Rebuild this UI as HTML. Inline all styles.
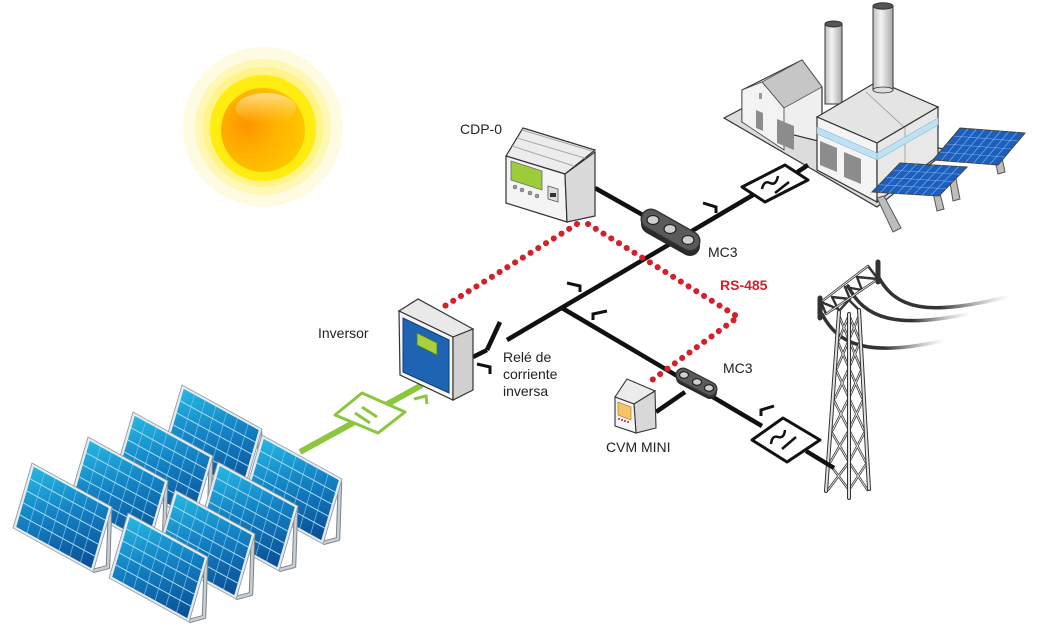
<!DOCTYPE html>
<html><head><meta charset="utf-8"><style>
html,body{margin:0;padding:0;background:#fff;}
svg{display:block;}
text{font-family:"Liberation Sans",Arial,sans-serif;font-size:14px;fill:#222;}
</style></head><body>
<svg width="1043" height="629" viewBox="0 0 1043 629" xmlns="http://www.w3.org/2000/svg">
<defs>
 <linearGradient id="pvg" x1="0" y1="0" x2="1" y2="1">
  <stop offset="0" stop-color="#25b8e2"/><stop offset="0.45" stop-color="#1482c4"/><stop offset="1" stop-color="#0b4d94"/>
 </linearGradient>
 <radialGradient id="ball" cx="0.3" cy="0.45" r="0.8">
  <stop offset="0" stop-color="#ff9400"/><stop offset="0.45" stop-color="#ffb300"/><stop offset="1" stop-color="#ffcc00"/>
 </radialGradient>
 <linearGradient id="hl" x1="0" y1="0" x2="0" y2="1">
  <stop offset="0" stop-color="#ffe9b8" stop-opacity="0.75"/><stop offset="1" stop-color="#ffd060" stop-opacity="0"/>
 </linearGradient>
 <linearGradient id="chim" x1="0" y1="0" x2="1" y2="0">
  <stop offset="0" stop-color="#bdbdbd"/><stop offset="0.4" stop-color="#f4f4f4"/><stop offset="1" stop-color="#a8a8a8"/>
 </linearGradient>
 <linearGradient id="w1" gradientUnits="userSpaceOnUse" x1="940" y1="0" x2="1010" y2="0">
  <stop offset="0" stop-color="#333" stop-opacity="1"/><stop offset="1" stop-color="#999" stop-opacity="0"/>
 </linearGradient>
 <linearGradient id="w2" gradientUnits="userSpaceOnUse" x1="912" y1="0" x2="970" y2="0">
  <stop offset="0" stop-color="#333" stop-opacity="1"/><stop offset="1" stop-color="#999" stop-opacity="0"/>
 </linearGradient>
 <linearGradient id="w3" gradientUnits="userSpaceOnUse" x1="885" y1="0" x2="945" y2="0">
  <stop offset="0" stop-color="#333" stop-opacity="1"/><stop offset="1" stop-color="#999" stop-opacity="0"/>
 </linearGradient>
 <g id="pv">
  <rect x="0" y="0" width="80" height="65" fill="#e6ebef" stroke="#8f9ca8" stroke-width="0.8"/>
  <rect x="2.5" y="2.5" width="75" height="60" fill="url(#pvg)"/>
  <g stroke="#7cc8ee" stroke-width="0.7" opacity="0.85">
   <line x1="13.2" y1="2.5" x2="13.2" y2="62.5"/><line x1="23.9" y1="2.5" x2="23.9" y2="62.5"/>
   <line x1="34.6" y1="2.5" x2="34.6" y2="62.5"/><line x1="45.4" y1="2.5" x2="45.4" y2="62.5"/>
   <line x1="56.1" y1="2.5" x2="56.1" y2="62.5"/><line x1="66.8" y1="2.5" x2="66.8" y2="62.5"/>
  </g>
  <g stroke="#a9dcf5" stroke-width="1">
   <line x1="2.5" y1="14.5" x2="77.5" y2="14.5"/><line x1="2.5" y1="26.5" x2="77.5" y2="26.5"/>
   <line x1="2.5" y1="38.5" x2="77.5" y2="38.5"/><line x1="2.5" y1="50.5" x2="77.5" y2="50.5"/>
  </g>
 </g>
 <g id="stand">
  <path d="M78,46 L76,104 L61,108" fill="none" stroke="#7d8389" stroke-width="4.5" stroke-linejoin="round"/>
  <path d="M78,46 L76,104 L61,108" fill="none" stroke="#c9ced3" stroke-width="2.5" stroke-linejoin="round"/>
 </g>
 <g id="fpv">
  <rect x="0" y="0" width="100" height="50" fill="#1c5fbd" stroke="#444" stroke-width="1" vector-effect="non-scaling-stroke"/>
  <g stroke="#7fb2f0" stroke-width="0.6">
   <line x1="12.5" y1="0" x2="12.5" y2="50" vector-effect="non-scaling-stroke"/><line x1="25" y1="0" x2="25" y2="50" vector-effect="non-scaling-stroke"/>
   <line x1="37.5" y1="0" x2="37.5" y2="50" vector-effect="non-scaling-stroke"/><line x1="50" y1="0" x2="50" y2="50" vector-effect="non-scaling-stroke"/>
   <line x1="62.5" y1="0" x2="62.5" y2="50" vector-effect="non-scaling-stroke"/><line x1="75" y1="0" x2="75" y2="50" vector-effect="non-scaling-stroke"/>
   <line x1="87.5" y1="0" x2="87.5" y2="50" vector-effect="non-scaling-stroke"/>
   <line x1="0" y1="12.5" x2="100" y2="12.5" vector-effect="non-scaling-stroke"/><line x1="0" y1="25" x2="100" y2="25" vector-effect="non-scaling-stroke"/>
   <line x1="0" y1="37.5" x2="100" y2="37.5" vector-effect="non-scaling-stroke"/>
  </g>
 </g>
</defs>

<!-- SUN -->
<circle cx="263" cy="127" r="80" fill="#fffbe2"/>
<circle cx="263" cy="127" r="68" fill="#fff7b4"/>
<circle cx="263" cy="127" r="60" fill="#fff389"/>
<circle cx="263" cy="128" r="53" fill="#ffec10"/>
<circle cx="263" cy="130" r="42" fill="url(#ball)"/>
<ellipse cx="266" cy="108" rx="30" ry="15" fill="url(#hl)"/>

<!-- FACTORY -->
<polygon points="724,118 745,107 948,150 877,207" fill="#dcdcdc" stroke="#333" stroke-width="1.2"/>
<polygon points="742,90 802,60 822,87 822,142 742,122" fill="#efefef" stroke="#333" stroke-width="1.2"/>
<polygon points="762,82 802,60 822,87 784,108" fill="#c6c6c6" stroke="#555" stroke-width="0.8"/>
<polygon points="742,90 762,82 784,108 784,150 742,122" fill="#f3f3f3" stroke="#444" stroke-width="0.8"/>
<rect x="759" y="93" width="3" height="6" fill="#999"/>
<polygon points="756,110 763,113 763,131 756,128" fill="#8c8c8c"/>
<polygon points="777,119 794,126 794,150 777,143" fill="#8c8c8c"/>
<rect x="825" y="24" width="17" height="80" fill="url(#chim)" stroke="#333" stroke-width="1"/>
<ellipse cx="833.5" cy="24" rx="8.5" ry="3" fill="#555" stroke="#333" stroke-width="1"/>
<polygon points="817,117 877,143 938,107 878,81" fill="#e4e4e4" stroke="#333" stroke-width="1.2"/>
<line x1="905" y1="128" x2="866" y2="92" stroke="#999" stroke-width="0.8"/>
<polygon points="817,117 877,143 877,202 817,170" fill="#f4f4f4" stroke="#333" stroke-width="1.2"/>
<polygon points="877,143 938,107 938,156 877,202" fill="#e8e8e8" stroke="#333" stroke-width="1.2"/>
<line x1="905" y1="127" x2="905" y2="181" stroke="#999" stroke-width="0.8"/>
<polygon points="817,127 877,153 877,160 817,134" fill="#bfe1f6" stroke="#7aa" stroke-width="0.5"/>
<polygon points="877,153 938,118 938,125 877,160" fill="#bfe1f6" stroke="#7aa" stroke-width="0.5"/>
<polygon points="820,141 837,148 837,172 820,165" fill="#8c8c8c"/>
<polygon points="844,152 861,159 861,184 844,177" fill="#8c8c8c"/>
<rect x="873" y="6" width="20" height="84" fill="url(#chim)" stroke="#333" stroke-width="1"/>
<ellipse cx="883" cy="6" rx="10" ry="3.2" fill="#555" stroke="#333" stroke-width="1"/>
<ellipse cx="883" cy="90" rx="10" ry="3" fill="#ddd" stroke="#333" stroke-width="0.8"/>
<!-- factory panels legs -->
<g stroke="#555" stroke-width="1" fill="#bdbdbd">
 <polygon points="877,198 884,196 901,228 893,232"/>
 <polygon points="932,188 938,186 944,209 937,211"/>
 <polygon points="949,176 955,174 960,199 953,201"/>
 <polygon points="992,146 999,144 1005,172 998,174"/>
</g>
<use href="#fpv" transform="matrix(0.65,0.05,-0.54,0.64,960,128)"/>
<use href="#fpv" transform="matrix(0.67,0.04,-0.56,0.58,900,163)"/>

<!-- TOWER -->
<g fill="none" stroke-linecap="round">
 <path d="M878,276 C895,308 925,318 1010,296" stroke="url(#w1)" stroke-width="3.5"/>
 <path d="M848,286 C864,318 895,330 972,313" stroke="url(#w2)" stroke-width="3.5"/>
 <path d="M822,314 C838,345 868,358 946,340" stroke="url(#w3)" stroke-width="3.5"/>
</g>
<g fill="none" stroke-linecap="round" stroke-linejoin="round">
 <g stroke="#333" stroke-width="2.4">
  <path d="M838.8,315 L849,340 M849,315 L838.8,340 M837,340 L849,368 M849,340 L837,368 M835.1,368 L849,398 M849,368 L835.1,398 M832.7,398 L849,430 M849,398 L832.7,430 M830.4,430 L849,462 M849,430 L830.4,462 M828,462 L849,490 M849,462 L828,490"/>
  <path d="M859.3,315 L849,340 M849,315 L859.3,340 M860.7,340 L849,368 M849,340 L860.7,368 M862.2,368 L849,398 M849,368 L862.2,398 M863.9,398 L849,430 M849,398 L863.9,430 M865.7,430 L849,462 M849,430 L865.7,462 M867.5,462 L849,490 M849,462 L867.5,490"/>
  <path d="M821,302 L868,266 M826,314 L878,279 M821,302 L826,314 M832,297 L838,309 M845,287 L850,299 M857,277 L862,290 M868,266 L878,279 M821,302 L838,309 M832,297 L850,299 M845,287 L862,290 M857,277 L878,279 M838,312 L849,300 L859,310"/>
 </g>
 <g stroke="#ececec" stroke-width="0.9">
  <path d="M838.8,315 L849,340 M849,315 L838.8,340 M837,340 L849,368 M849,340 L837,368 M835.1,368 L849,398 M849,368 L835.1,398 M832.7,398 L849,430 M849,398 L832.7,430 M830.4,430 L849,462 M849,430 L830.4,462 M828,462 L849,490 M849,462 L828,490"/>
  <path d="M859.3,315 L849,340 M849,315 L859.3,340 M860.7,340 L849,368 M849,340 L860.7,368 M862.2,368 L849,398 M849,368 L862.2,398 M863.9,398 L849,430 M849,398 L863.9,430 M865.7,430 L849,462 M849,430 L865.7,462 M867.5,462 L849,490 M849,462 L867.5,490"/>
  <path d="M821,302 L868,266 M826,314 L878,279"/>
 </g>
 <g stroke="#333" stroke-width="4">
  <path d="M839,312 L826,491 M849,314 L849,498 M859,310 L869,489"/>
 </g>
 <g stroke="#e2e2e2" stroke-width="2">
  <path d="M839,312 L826,491 M849,314 L849,498 M859,310 L869,489"/>
 </g>
 <path d="M820,298 L820,318 M878,262 L878,282" stroke="#333" stroke-width="5"/>
</g>

<!-- BLACK CONNECTORS -->
<g stroke="#111" stroke-width="4.5" fill="none" stroke-linecap="butt">
 <line x1="507" y1="340" x2="753" y2="195"/>
 <line x1="796" y1="173" x2="808" y2="165"/>
 <line x1="562" y1="308" x2="762" y2="426"/>
 <line x1="806" y1="451" x2="834" y2="468"/>
 <line x1="595" y1="188" x2="650" y2="219"/>
 <line x1="685" y1="392" x2="656" y2="412"/>
 <line x1="473" y1="357" x2="487" y2="350"/>
 <line x1="487" y1="350" x2="500" y2="322"/>
</g>
<g stroke="#111" stroke-width="3" fill="none">
 <path d="M477,364 L490,367 L490,374"/>
 <path d="M703,203 L716,207 L716,213"/>
 <path d="M567,283 L580,286 L580,292"/>
 <path d="M607,311 L593,314 L593,320"/>
 <path d="M774,406 L761,410 L761,416"/>
</g>
<!-- transformers -->
<polygon points="742,187 785,165 808,180 765,202" fill="#fff" stroke="#111" stroke-width="3" stroke-linejoin="round"/>
<path d="M762,189 Q764,180 770,183 T778,176" fill="none" stroke="#111" stroke-width="2.5"/>
<line x1="775" y1="193" x2="789" y2="182" stroke="#111" stroke-width="2.5"/>
<polygon points="752,440 783,418 820,440 787,462" fill="#fff" stroke="#111" stroke-width="3" stroke-linejoin="round"/>
<path d="M771,444 Q772,435 778,437 T785,430" fill="none" stroke="#111" stroke-width="2.5"/>
<line x1="782" y1="449" x2="796" y2="437" stroke="#111" stroke-width="2.5"/>

<!-- GREEN DC LINE -->
<line x1="422" y1="385" x2="300" y2="452" stroke="#8cc63e" stroke-width="6"/>
<polygon points="335,415 362,393 405,412 378,433" fill="#fff" stroke="#8cc63e" stroke-width="3" stroke-linejoin="round"/>
<line x1="355" y1="413" x2="370" y2="423" stroke="#8cc63e" stroke-width="3"/>
<line x1="362" y1="407" x2="377" y2="417" stroke="#8cc63e" stroke-width="3"/>
<path d="M414,399 L426,396 L427,404" fill="none" stroke="#8cc63e" stroke-width="3"/>

<!-- SOLAR FIELD -->
<use href="#stand" transform="translate(182,385)"/><use href="#pv" transform="matrix(1,0.55,-0.292,1,182,385)"/>
<use href="#stand" transform="translate(133,412)"/><use href="#pv" transform="matrix(1,0.55,-0.292,1,133,412)"/>
<use href="#stand" transform="translate(262,435)"/><use href="#pv" transform="matrix(1,0.55,-0.292,1,262,435)"/>
<use href="#stand" transform="translate(88,437)"/><use href="#pv" transform="matrix(1,0.55,-0.292,1,88,437)"/>
<use href="#stand" transform="translate(218,462)"/><use href="#pv" transform="matrix(1,0.55,-0.292,1,218,462)"/>
<use href="#stand" transform="translate(32,463)"/><use href="#pv" transform="matrix(1,0.55,-0.292,1,32,463)"/>
<use href="#stand" transform="translate(175,490)"/><use href="#pv" transform="matrix(1,0.55,-0.292,1,175,490)"/>
<use href="#stand" transform="translate(128,513)"/><use href="#pv" transform="matrix(1,0.55,-0.292,1,128,513)"/>

<!-- INVERTER -->
<polygon points="399,311 418,299 473,329 453,337" fill="#e9e9e9" stroke="#333" stroke-width="1.2"/>
<polygon points="399,311 453,337 453,400 400,375" fill="#f6f6f6" stroke="#333" stroke-width="1.2"/>
<polygon points="453,337 473,329 473,390 453,400" fill="#d0d0d0" stroke="#333" stroke-width="1.2"/>
<polygon points="403,318 449,340 449,393 403,372" fill="#1e64b2" stroke="#0e3f7a" stroke-width="1"/>
<polygon points="417,333 437,343 437,355 417,345" fill="#a9d13f" stroke="#5d7a1a" stroke-width="0.8"/>

<!-- CDP-0 -->
<polygon points="506,156 523,128 595,150 565,174" fill="#ececec" stroke="#333" stroke-width="1.2"/>
<path d="M512,146 L580,168 M517,138 L588,159 M522,130 L592,151" stroke="#aaa" stroke-width="1" fill="none"/>
<polygon points="506,156 565,174 567,222 506,203" fill="#f4f4f4" stroke="#333" stroke-width="1.2"/>
<polygon points="565,174 595,152 595,216 567,222" fill="#dadada" stroke="#333" stroke-width="1.2"/>
<polygon points="511,161 542,171 542,190 511,180" fill="#9ccc3a" stroke="#667" stroke-width="0.8"/>
<g fill="#999" stroke="#666" stroke-width="0.5">
 <circle cx="515" cy="187" r="2"/><circle cx="522" cy="190" r="2"/><circle cx="530" cy="193" r="2"/><circle cx="537" cy="196" r="2"/>
</g>
<polygon points="548,186 558,189 558,202 548,199" fill="#ddd" stroke="#555" stroke-width="0.8"/>
<rect x="550" y="193" width="6" height="4" fill="#333"/>

<!-- CVM MINI -->
<polygon points="615,397 627,379 655,391 634,404" fill="#ececec" stroke="#333" stroke-width="1.1"/>
<polygon points="634,404 655,391 656,428 636,433" fill="#d8d8d8" stroke="#333" stroke-width="1.1"/>
<polygon points="615,397 634,404 636,433 615,426" fill="#f5f5f5" stroke="#333" stroke-width="1.1"/>
<polygon points="618,402 631,407 631,420 618,415" fill="#f6c466" stroke="#a07020" stroke-width="0.6"/>
<g fill="#c0272d"><circle cx="619" cy="419" r="1"/><circle cx="622" cy="420" r="1"/><circle cx="625" cy="421" r="1"/><circle cx="628" cy="422" r="1"/></g>

<!-- MC3 current transformers -->
<g stroke-linecap="round">
 <line x1="651" y1="224" x2="690" y2="246" stroke="#2a2a2a" stroke-width="20"/>
 <line x1="651" y1="219" x2="690" y2="241" stroke="#333" stroke-width="21"/>
 <line x1="651" y1="219" x2="690" y2="241" stroke="#5a5a5a" stroke-width="18"/>
 <line x1="683" y1="378" x2="710" y2="392" stroke="#2a2a2a" stroke-width="14"/>
 <line x1="683" y1="375" x2="710" y2="389" stroke="#333" stroke-width="15"/>
 <line x1="683" y1="375" x2="710" y2="389" stroke="#5a5a5a" stroke-width="12.5"/>
</g>
<g fill="#cfcfcf" stroke="#222" stroke-width="1.2">
 <ellipse cx="653" cy="220" rx="6" ry="4.5"/><ellipse cx="670" cy="229" rx="6" ry="4.5"/><ellipse cx="688" cy="240" rx="6" ry="4.5"/>
 <ellipse cx="684" cy="375" rx="4.5" ry="3.3"/><ellipse cx="697" cy="382" rx="4.5" ry="3.3"/><ellipse cx="709" cy="388" rx="4.5" ry="3.3"/>
</g>

<!-- RS-485 dotted -->
<g fill="none" stroke="#d3202a" stroke-width="6" stroke-linecap="round" stroke-dasharray="0.1 9">
 <path d="M577,224 L440,309"/>
 <path d="M588,224 L738,317 L648,383"/>
</g>

<!-- LABELS -->
<text x="460" y="134">CDP-0</text>
<text x="708" y="257">MC3</text>
<text x="720" y="290" style="font-weight:bold;fill:#d3202a">RS-485</text>
<text x="318" y="338">Inversor</text>
<text x="503" y="362">Relé de</text>
<text x="503" y="379">corriente</text>
<text x="503" y="396">inversa</text>
<text x="723" y="373">MC3</text>
<text x="606" y="452">CVM MINI</text>
</svg>
</body></html>
